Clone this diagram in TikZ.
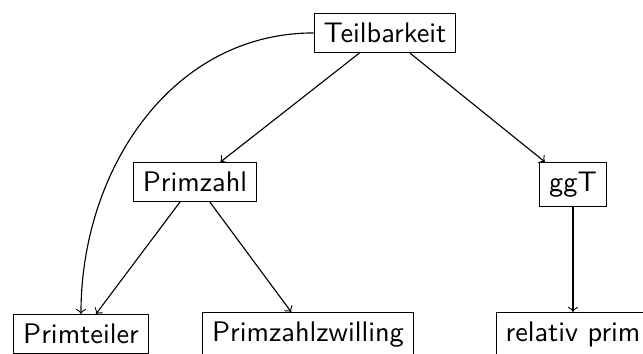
\documentclass[tikz,border=0pt]{standalone}
\begin{document}
\begin{tikzpicture}[x=0.3534pt,y=0.3534pt,
  box/.style={draw, font=\sffamily, anchor=north},
  edge/.style={->}]
\useasboundingbox (0,0) rectangle (643,354);
\clip (0,0) rectangle (643,354);
\node[box] (teil) at (385,341) {Teilbarkeit};
\node[box] (pz) at (195,192) {Primzahl};
\node[box] (ggt) at (573,192) {ggT};
\node[box] (pt) at (81,40) {Primteiler};
\node[box] (pzz) at (308,42) {Primzahlzwilling};
\node[box] (rp) at (573,42) {relativ prim};
\draw[edge] (teil) -- (pz);
\draw[edge] (teil) -- (ggt);
\draw[edge] (teil.west) to[out=180,in=90] (pt.north);
\draw[edge] (pz) -- (pt);
\draw[edge] (pz) -- (pzz);
\draw[edge] (ggt) -- (rp);
\end{tikzpicture}
\end{document}
